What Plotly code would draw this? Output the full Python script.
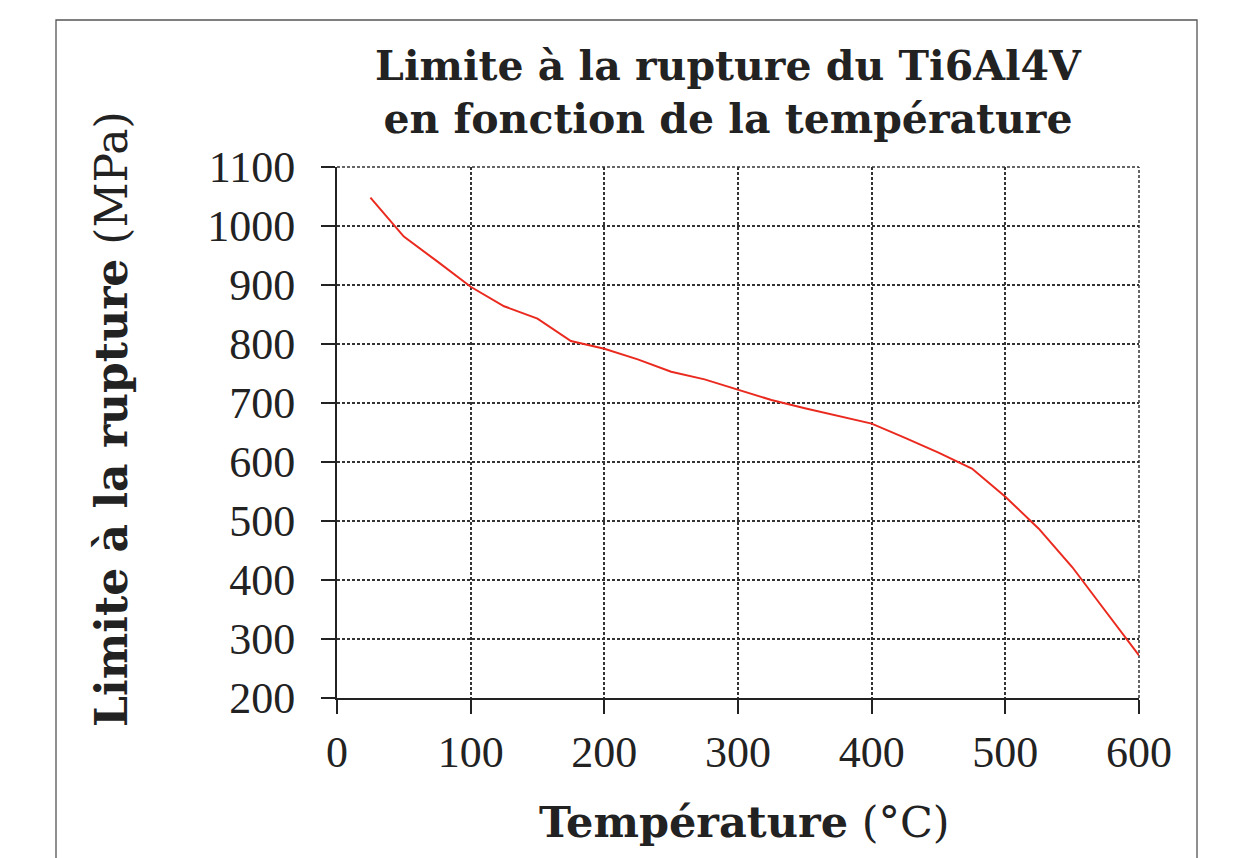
import plotly.graph_objects as go

# Data
temperature_c = [25, 50, 75, 100, 125, 150, 175, 200, 225, 250, 275, 300,
                 325, 350, 375, 400, 425, 450, 475, 500, 525, 550, 575, 600]
strength_mpa = [1048, 982, 940, 897, 864, 843, 805, 792, 774, 753, 740, 723,
                705, 691, 678, 665, 641, 616, 589, 541, 487, 422, 347, 272]

x_ticks = [0, 100, 200, 300, 400, 500, 600]
y_ticks = [200, 300, 400, 500, 600, 700, 800, 900, 1000, 1100]

title_text = "<b>Limite à la rupture du Ti6Al4V<br>en fonction de la température</b>"
x_title = "<b>Température</b> (°C)"
y_title = "<b>Limite à la rupture</b> (MPa)"

W, H = 1244, 858
ML, MR, MT, MB = 337, 105, 167, 160
PW, PH = W - ML - MR, H - MT - MB

def px_x(p):
    return (p - ML) / PW

def px_y(p):
    return (H - MB - p) / PH

GRID_COLOR = "#333333"
GRID_DASH = "3px,2px"

fig = go.Figure()
fig.add_trace(go.Scatter(
    x=temperature_c, y=strength_mpa, mode="lines",
    line=dict(color="#ea2a1f", width=2), showlegend=False,
))

tick_font = dict(family="Liberation Serif", size=44, color="#222222")
axis_common = dict(
    showline=True, linecolor="#222222", linewidth=2,
    ticks="outside", ticklen=14, tickwidth=2, tickcolor="#222222",
    showgrid=True, gridcolor=GRID_COLOR, gridwidth=1.5, griddash=GRID_DASH,
    zeroline=False, tickfont=tick_font, layer="below traces",
)

fig.update_xaxes(range=[x_ticks[0], x_ticks[-1]], tickvals=x_ticks,
                 ticktext=[str(v) for v in x_ticks],
                 ticklabelstandoff=0, **axis_common)
fig.update_yaxes(range=[y_ticks[0], y_ticks[-1]], tickvals=y_ticks,
                 ticktext=[str(v) for v in y_ticks],
                 ticklabelstandoff=17, **axis_common)

edge_lines = [
    # top gridline (plot-area top edge)
    dict(type="line", xref="paper", yref="paper", x0=0, x1=1, y0=1, y1=1,
         line=dict(color=GRID_COLOR, width=1.5, dash=GRID_DASH), layer="below"),
    # right gridline (plot-area right edge)
    dict(type="line", xref="paper", yref="paper", x0=1, x1=1, y0=0, y1=1,
         line=dict(color=GRID_COLOR, width=1.5, dash=GRID_DASH), layer="below"),
]

fig.update_layout(
    width=W, height=H,
    margin=dict(l=ML, r=MR, t=MT, b=MB, autoexpand=False),
    paper_bgcolor="white", plot_bgcolor="white",
    title=dict(text=title_text, x=728 / W, xanchor="center",
               y=1 - 80 / H, yanchor="top",
               font=dict(family="DejaVu Serif", size=41, color="#222222")),
    annotations=[
        dict(text=x_title, xref="paper", yref="paper",
             x=px_x(744), y=px_y(822), xanchor="center", yanchor="middle",
             showarrow=False,
             font=dict(family="DejaVu Serif", size=43, color="#222222")),
        dict(text=y_title, xref="paper", yref="paper", textangle=-90,
             x=px_x(111), y=px_y(419), xanchor="center", yanchor="middle",
             showarrow=False,
             font=dict(family="DejaVu Serif", size=44, color="#222222")),
    ],
    shapes=[
        dict(type="rect", xref="paper", yref="paper",
             x0=px_x(56), x1=px_x(1197), y0=px_y(900), y1=px_y(20),
             line=dict(color="#555555", width=1.3), fillcolor="rgba(0,0,0,0)",
             layer="below"),
    ] + edge_lines,
)

fig.write_html("out.html")
